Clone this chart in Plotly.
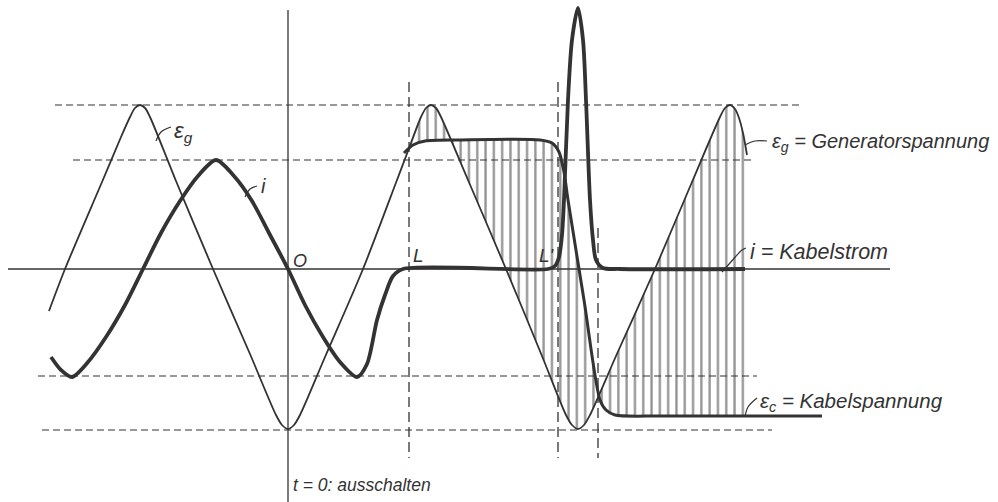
import plotly.graph_objects as go

# ---- data (time axis: t = 0 at switching instant, arbitrary units; values in arbitrary units) ----
# Generator voltage  E_g
EG_T = [-239, -223, -186, -167, -158, -153, -148, -143, -138, -112, -75, -38, -12, -6, 0, 6,
        12, 37, 75, 109, 120, 133, 138, 143, 148, 153, 180, 218, 254, 278, 284, 290,
        296, 302, 328, 367, 404, 432, 437, 442, 447, 451, 455, 459]
EG_V = [-42, 0, 87, 132, 152, 161, 164, 161, 152, 88, 0, -85, -146, -156, -160, -156,
        -146, -88, 0, 89, 118, 152, 161, 164, 161, 152, 89, 0, -87, -146, -156, -160,
        -156, -146, -87, 0, 87, 152, 161, 164, 160, 151, 136, 114]
# Cable voltage  E_c (after opening at L)
EC_T = [116, 125, 137, 172, 252, 264, 271, 276, 280, 296, 312, 318, 327, 372, 457, 534]
EC_V = [116, 124, 128, 129, 129, 126, 117, 97, 69, -31, -131, -141, -146, -147, -147, -147]
# Cable current  i
I_T = [-237, -227, -216, -200, -182, -163, -145, -127, -108, -90, -72, -54, -36, -19, 0, 17, 35, 52,
       69, 79, 89, 97, 105, 115, 260, 267, 271, 274, 276, 280, 284, 290, 295, 298, 302, 305, 308,
       315, 332, 457]
I_V = [-88, -101, -108, -93, -68, -36, 0, 36, 68, 93, 109, 93, 68, 36, 0, -36, -68, -93,
       -108, -95, -51, -26, -7, 0, 0, 3, 12, 34, 69, 169, 229, 261, 229, 169, 69, 29, 9,
       1, 0, 0]

# hatched interval (between E_g and E_c)
HATCH_FROM = 116
HATCH_TO = 459

# reference levels (dashed)
H_LEVELS = [164, 109, -107, -161]
H_FROM = [-233, -215, -250, -246]
H_TO = [515, 464, 469, 484]
V_TIMES = [121, 270, 310]
V_TOP = [187, 187, 41]
V_BOTTOM = [-189, -189, -189]

INK = "#333333"


def font(size):
    return dict(family="Liberation Sans, Arial, sans-serif", size=size, color=INK, style="italic")


fig = go.Figure()

# hatching between generator voltage and cable voltage
ec_seg = [(t, v) for t, v in zip(EC_T, EC_V) if HATCH_FROM <= t <= HATCH_TO]
eg_seg = [(t, v) for t, v in zip(EG_T, EG_V) if HATCH_FROM <= t <= HATCH_TO]
fig.add_trace(go.Scatter(x=[p[0] for p in ec_seg], y=[p[1] for p in ec_seg], mode="lines",
                         line=dict(width=0, shape="spline", smoothing=0.8), hoverinfo="skip",
                         showlegend=False))
fig.add_trace(go.Scatter(x=[p[0] for p in eg_seg], y=[p[1] for p in eg_seg], mode="lines",
                         line=dict(width=0, shape="spline", smoothing=0.8), fill="tonexty",
                         fillcolor="rgba(0,0,0,0)",
                         fillpattern=dict(shape="|", size=8.3, solidity=0.28, fgcolor="#2a2a2a",
                                          bgcolor="rgba(0,0,0,0)", fillmode="overlay"),
                         hoverinfo="skip", showlegend=False))

# curves
fig.add_trace(go.Scatter(x=EG_T, y=EG_V, mode="lines", name="Eg",
                         line=dict(color=INK, width=1.8, shape="spline", smoothing=0.8),
                         showlegend=False))
fig.add_trace(go.Scatter(x=EC_T, y=EC_V, mode="lines", name="Ec",
                         line=dict(color=INK, width=3, shape="spline", smoothing=0.8),
                         showlegend=False))
fig.add_trace(go.Scatter(x=I_T, y=I_V, mode="lines", name="i",
                         line=dict(color=INK, width=3.8, shape="spline", smoothing=0.8),
                         showlegend=False))

# leader hooks for labels
LEADERS = [
    ([-132, -127, -117], [128, 137, 142]),
    ([-43, -38, -31], [72, 80, 83]),
    ([457, 467, 479], [124, 128, 128]),
    ([434, 442, 454, 458], [-3, 6, 19, 21]),
    ([457, 460, 469], [-148, -138, -129]),
]
for lx, ly in LEADERS:
    fig.add_trace(go.Scatter(x=lx, y=ly, mode="lines", line=dict(color=INK, width=1.2, shape="spline"),
                             hoverinfo="skip", showlegend=False))

# axes
fig.add_shape(type="line", x0=-280, x1=602, y0=0, y1=0, line=dict(color=INK, width=1.3))
fig.add_shape(type="line", x0=0, x1=0, y0=259, y1=-233, line=dict(color=INK, width=1.3))

for lev, a, b in zip(H_LEVELS, H_FROM, H_TO):
    fig.add_shape(type="line", x0=a, x1=b, y0=lev, y1=lev,
                  line=dict(color=INK, width=1.2, dash="7px,4px"))
for t, top, bot in zip(V_TIMES, V_TOP, V_BOTTOM):
    fig.add_shape(type="line", x0=t, x1=t, y0=top, y1=bot,
                  line=dict(color=INK, width=1.3, dash="10px,5px"))

LABELS = [
    (-116, 137, "ε<sub>g</sub>", 22),
    (-29, 83, "i", 20),
    (3, 8, "O", 18),
    (123, 14, "L", 19),
    (249, 14, "L'", 19),
    (482, 127, "ε<sub>g</sub> = Generatorspannung", 20),
    (460, 17, "i = Kabelstrom", 21.5),
    (470, -133, "ε<sub>c</sub> = Kabelspannung", 20.5),
    (3, -216, "t = 0: ausschalten", 17.5),
]
for x, y, s, sz in LABELS:
    fig.add_annotation(x=x, y=y, text=s, showarrow=False, xanchor="left", yanchor="middle",
                       font=font(sz))

fig.update_layout(
    width=998, height=502, margin=dict(l=0, r=0, t=0, b=0),
    paper_bgcolor="white", plot_bgcolor="white",
    xaxis=dict(range=[-288, 710], visible=False, fixedrange=True),
    yaxis=dict(range=[-233, 269], visible=False, fixedrange=True),
    showlegend=False,
)
fig.write_html("out.html", config={"displayModeBar": False},
               post_script="document.body.style.margin='0';document.body.style.overflow='hidden';")
